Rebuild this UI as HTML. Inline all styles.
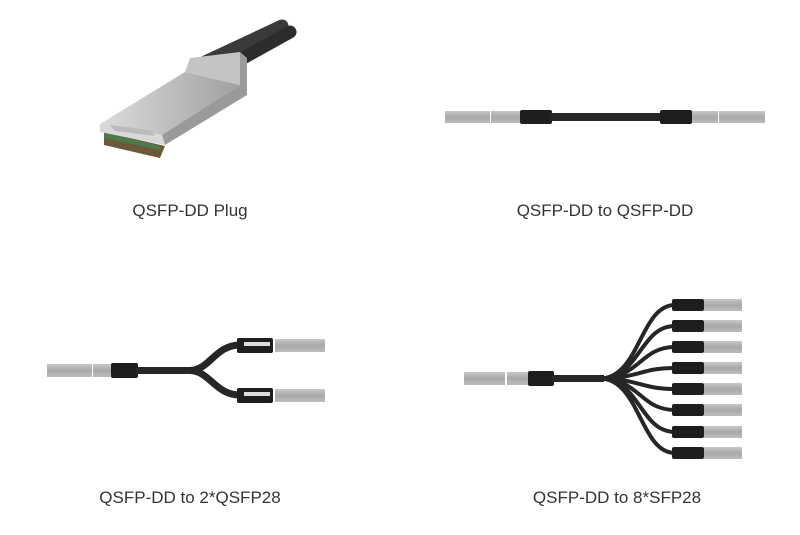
<!DOCTYPE html>
<html><head><style>body{margin:0;background:#fff}svg{display:block}</style></head>
<body>
<svg width="800" height="535" viewBox="0 0 800 535" xmlns="http://www.w3.org/2000/svg" font-family="Liberation Sans, sans-serif">
<defs>
<linearGradient id="g" x1="0" y1="0" x2="0" y2="1"><stop offset="0" stop-color="#c8c8c8"/><stop offset="0.5" stop-color="#a8a8a8"/><stop offset="1" stop-color="#bdbdbd"/></linearGradient>
<linearGradient id="m" x1="0" y1="0" x2="1" y2="0"><stop offset="0" stop-color="#dcdcdc"/><stop offset="1" stop-color="#a0a0a0"/></linearGradient>
</defs>
<!-- Plug -->
<path d="M205 62 L282 26" stroke="#3a3a3a" stroke-width="13" stroke-linecap="round"/>
<path d="M218 72 L290 32" stroke="#2c2c2c" stroke-width="13" stroke-linecap="round"/>
<path d="M104 132 L165 146 L160 158 L104 145Z" fill="#6b5a3a"/>
<path d="M104 132 L160 146 L160 150 L104 138Z" fill="#4d7a4a"/>
<path d="M100 124 L185 72 L240 85 L162 135Z" fill="url(#m)"/>
<path d="M185 72 L190 58 L240 52 L240 85Z" fill="#c4c4c4"/>
<path d="M240 52 L247 58 L247 95 L165 145 L162 135 L240 85Z" fill="#9a9a9a"/>
<path d="M100 124 L162 135 L165 145 L100 132Z" fill="#d8d8d8"/>
<path d="M110 125 L150 130 L155 136 L115 131Z" fill="#bbb"/>
<!-- QSFP-DD to QSFP-DD -->
<rect x="445" y="111" width="45" height="12" fill="url(#g)"/>
<rect x="491" y="111" width="29" height="12" fill="url(#g)"/>
<rect x="520" y="110" width="32" height="14" rx="2" fill="#1e1e1e"/>
<rect x="550" y="113" width="112" height="8" fill="#262626"/>
<rect x="660" y="110" width="32" height="14" rx="2" fill="#1e1e1e"/>
<rect x="692" y="111" width="26" height="12" fill="url(#g)"/>
<rect x="719" y="111" width="46" height="12" fill="url(#g)"/>
<!-- 2*QSFP28 -->
<rect x="47" y="364" width="45" height="13" fill="url(#g)"/>
<rect x="93" y="364" width="19" height="13" fill="url(#g)"/>
<rect x="111" y="363" width="27" height="15" rx="2" fill="#1e1e1e"/>
<path d="M136 370.5 L190 370.5 C210 370 215 345 240 345" stroke="#262626" stroke-width="7" fill="none"/>
<path d="M136 370.5 L190 370.5 C210 371 215 395 240 395" stroke="#262626" stroke-width="7" fill="none"/>
<rect x="237" y="338" width="36" height="15" rx="2" fill="#1e1e1e"/><rect x="244" y="342" width="26" height="4" fill="#ddd"/>
<rect x="237" y="388" width="36" height="15" rx="2" fill="#1e1e1e"/><rect x="244" y="392" width="26" height="4" fill="#ddd"/>
<rect x="275" y="339" width="50" height="13" fill="url(#g)"/>
<rect x="275" y="389" width="50" height="13" fill="url(#g)"/>
<!-- 8*SFP28 -->
<rect x="464" y="372" width="41" height="13" fill="url(#g)"/>
<rect x="507" y="372" width="21" height="13" fill="url(#g)"/>
<rect x="528" y="371" width="26" height="15" rx="2" fill="#1e1e1e"/>
<rect x="552" y="375" width="52" height="7" fill="#262626"/>
<g stroke="#262626" stroke-width="4" fill="none">
<path d="M600 378.5 C640 378 640 305 675 305"/>
<path d="M600 378.5 C640 378 640 326 675 326"/>
<path d="M600 378.5 C640 378 640 347 675 347"/>
<path d="M600 378.5 C640 378 640 368 675 368"/>
<path d="M600 378.5 C640 379 640 389 675 389"/>
<path d="M600 378.5 C640 379 640 410 675 410"/>
<path d="M600 378.5 C640 379 640 432 675 432"/>
<path d="M600 378.5 C640 379 640 453 675 453"/>
</g>
<g fill="#1e1e1e">
<rect x="672" y="299" width="32" height="12" rx="2"/><rect x="672" y="320" width="32" height="12" rx="2"/><rect x="672" y="341" width="32" height="12" rx="2"/><rect x="672" y="362" width="32" height="12" rx="2"/><rect x="672" y="383" width="32" height="12" rx="2"/><rect x="672" y="404" width="32" height="12" rx="2"/><rect x="672" y="426" width="32" height="12" rx="2"/><rect x="672" y="447" width="32" height="12" rx="2"/>
</g>
<g fill="url(#g)">
<rect x="704" y="299" width="38" height="12"/><rect x="704" y="320" width="38" height="12"/><rect x="704" y="341" width="38" height="12"/><rect x="704" y="362" width="38" height="12"/><rect x="704" y="383" width="38" height="12"/><rect x="704" y="404" width="38" height="12"/><rect x="704" y="426" width="38" height="12"/><rect x="704" y="447" width="38" height="12"/>
</g>
<g font-size="17" fill="#333" text-anchor="middle">
<text x="190" y="216">QSFP-DD Plug</text>
<text x="605" y="216">QSFP-DD to QSFP-DD</text>
<text x="190" y="503">QSFP-DD to 2*QSFP28</text>
<text x="617" y="503">QSFP-DD to 8*SFP28</text>
</g>
</svg>
</body></html>
